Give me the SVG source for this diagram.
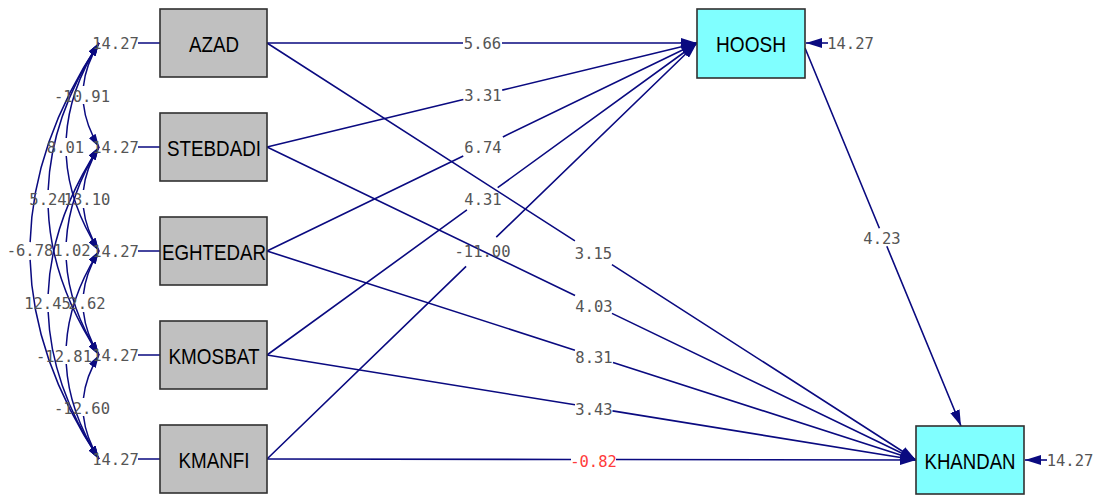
<svg xmlns="http://www.w3.org/2000/svg" width="1097" height="495" viewBox="0 0 1097 495">
<style>
.obs{fill:#c0c0c0;stroke:#303030;stroke-width:1.6}
.lat{fill:#80ffff;stroke:#303030;stroke-width:1.6}
.nm{font-family:"Liberation Sans",Arial,sans-serif;font-size:22px;fill:#000;text-anchor:middle}
.lb{font-family:"DejaVu Sans Mono",monospace;font-size:15.5px;fill:#555;text-anchor:middle}
.red{fill:#ff3b3b}
.ln{fill:none;stroke:#0a0a80;stroke-width:1.6}
.cv{fill:none;stroke:#0a0a80;stroke-width:1.5}
</style>
<defs>
<marker id="ah" viewBox="0 0 16 10" refX="16" refY="5" markerWidth="16" markerHeight="10" orient="auto" markerUnits="userSpaceOnUse"><path d="M0,0 L16,5 L0,10 z" fill="#0a0a80"/></marker>
<marker id="ahs" viewBox="0 0 13 8" refX="13" refY="4" markerWidth="13" markerHeight="8" orient="auto-start-reverse" markerUnits="userSpaceOnUse"><path d="M0,0 L13,4 L0,8 z" fill="#0a0a80"/></marker>
</defs>
<rect width="1097" height="495" fill="#fff"/>
<g id="connectors">
<path class="ln" d="M138,43H160M138,147H160M138,251H160M138,355H160M138,459H160"/>
<path class="ln" d="M828,43H806" marker-end="url(#ah)"/>
<path class="ln" d="M1047,460H1025" marker-end="url(#ah)"/>
<path class="ln" d="M267,43L697,43" stroke-dasharray="196 39 1000" marker-end="url(#ah)"/>
<path class="ln" d="M267,147L697,43" stroke-dasharray="202 40 1000" marker-end="url(#ah)"/>
<path class="ln" d="M267,251L697,43" stroke-dasharray="218 44 1000" marker-end="url(#ah)"/>
<path class="ln" d="M267,355L697,43" stroke-dasharray="247 38 1000" marker-end="url(#ah)"/>
<path class="ln" d="M267,459L697,43" stroke-dasharray="277 42 1000" marker-end="url(#ah)"/>
<path class="ln" d="M267,43L916,460" stroke-dasharray="366 44 1000" marker-end="url(#ah)"/>
<path class="ln" d="M267,147L916,460" stroke-dasharray="342 41 1000" marker-end="url(#ah)"/>
<path class="ln" d="M267,251L916,460" stroke-dasharray="323.5 40 1000" marker-end="url(#ah)"/>
<path class="ln" d="M267,355L916,460" stroke-dasharray="312 38 1000" marker-end="url(#ah)"/>
<path class="ln" d="M267,459L916,460" stroke-dasharray="304 45 1000" marker-end="url(#ah)"/>
<path class="ln" d="M805,48L961,426" stroke-dasharray="195 19.5 1000" marker-end="url(#ah)"/>
<path class="cv" pathLength="1000" stroke-dasharray="418 164 1000" d="M99,43 Q67,95 99,147" marker-start="url(#ahs)" marker-end="url(#ahs)"/>
<path class="cv" pathLength="1000" stroke-dasharray="459 82 1000" d="M99,43 Q33,147 99,251" marker-start="url(#ahs)" marker-end="url(#ahs)"/>
<path class="cv" pathLength="1000" stroke-dasharray="473 54 1000" d="M99,43 Q-3,199 99,355" marker-start="url(#ahs)" marker-end="url(#ahs)"/>
<path class="cv" pathLength="1000" stroke-dasharray="480 40 1000" d="M99,43 Q-39,251 99,459" marker-start="url(#ahs)" marker-end="url(#ahs)"/>
<path class="cv" pathLength="1000" stroke-dasharray="418 164 1000" d="M99,147 Q67,199 99,251" marker-start="url(#ahs)" marker-end="url(#ahs)"/>
<path class="cv" pathLength="1000" stroke-dasharray="459 82 1000" d="M99,147 Q33,251 99,355" marker-start="url(#ahs)" marker-end="url(#ahs)"/>
<path class="cv" pathLength="1000" stroke-dasharray="473 54 1000" d="M99,147 Q-3,303 99,459" marker-start="url(#ahs)" marker-end="url(#ahs)"/>
<path class="cv" pathLength="1000" stroke-dasharray="418 164 1000" d="M99,251 Q67,303 99,355" marker-start="url(#ahs)" marker-end="url(#ahs)"/>
<path class="cv" pathLength="1000" stroke-dasharray="459 82 1000" d="M99,251 Q33,355 99,459" marker-start="url(#ahs)" marker-end="url(#ahs)"/>
<path class="cv" pathLength="1000" stroke-dasharray="418 164 1000" d="M99,355 Q67,407 99,459" marker-start="url(#ahs)" marker-end="url(#ahs)"/>
</g>
<g id="labels">
<text class="lb" x="115.5" y="48.6">14.27</text>
<text class="lb" x="115.5" y="152.6">14.27</text>
<text class="lb" x="115.5" y="256.6">14.27</text>
<text class="lb" x="115.5" y="360.6">14.27</text>
<text class="lb" x="115.5" y="464.6">14.27</text>
<text class="lb" x="850.5" y="48.6">14.27</text>
<text class="lb" x="1070" y="465.6">14.27</text>
<text class="lb" x="82" y="101.6">-10.91</text>
<text class="lb" x="65.5" y="152.6">8.01</text>
<text class="lb" x="48" y="204.6">5.24</text>
<text class="lb" x="30" y="255.6">-6.78</text>
<text class="lb" x="87" y="204.6">13.10</text>
<text class="lb" x="72" y="255.6">1.02</text>
<text class="lb" x="47.5" y="308.6">12.45</text>
<text class="lb" x="87" y="308.6">2.62</text>
<text class="lb" x="64" y="361.6">-12.81</text>
<text class="lb" x="82" y="413.6">-12.60</text>
<text class="lb" x="482.5" y="48.6">5.66</text>
<text class="lb" x="483" y="100.6">3.31</text>
<text class="lb" x="483" y="152.6">6.74</text>
<text class="lb" x="483" y="204.6">4.31</text>
<text class="lb" x="482.5" y="256.6">-11.00</text>
<text class="lb" x="593.5" y="258.6">3.15</text>
<text class="lb" x="594" y="311.6">4.03</text>
<text class="lb" x="594" y="362.6">8.31</text>
<text class="lb" x="594" y="414.6">3.43</text>
<text class="lb red" x="593.5" y="466.6">-0.82</text>
<text class="lb" x="882" y="243.6">4.23</text>
</g>
<g id="AZAD"><rect class="obs" x="160" y="9" width="107" height="68"/><text class="nm" x="214" y="52" textLength="50" lengthAdjust="spacingAndGlyphs">AZAD</text></g>
<g id="STEBDADI"><rect class="obs" x="160" y="113" width="107" height="68"/><text class="nm" x="214" y="156" textLength="94" lengthAdjust="spacingAndGlyphs">STEBDADI</text></g>
<g id="EGHTEDAR"><rect class="obs" x="160" y="217" width="107" height="68"/><text class="nm" x="214" y="260" textLength="104" lengthAdjust="spacingAndGlyphs">EGHTEDAR</text></g>
<g id="KMOSBAT"><rect class="obs" x="160" y="321" width="107" height="68"/><text class="nm" x="214" y="364" textLength="91" lengthAdjust="spacingAndGlyphs">KMOSBAT</text></g>
<g id="KMANFI"><rect class="obs" x="160" y="425" width="107" height="68"/><text class="nm" x="214" y="468" textLength="71" lengthAdjust="spacingAndGlyphs">KMANFI</text></g>
<g id="HOOSH"><rect class="lat" x="697" y="9" width="108" height="69"/><text class="nm" x="751" y="52" textLength="70" lengthAdjust="spacingAndGlyphs">HOOSH</text></g>
<g id="KHANDAN"><rect class="lat" x="916" y="426" width="108" height="68"/><text class="nm" x="970" y="469" textLength="91" lengthAdjust="spacingAndGlyphs">KHANDAN</text></g>
</svg>
